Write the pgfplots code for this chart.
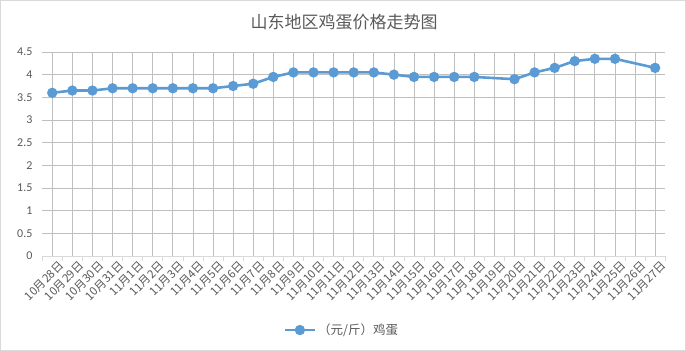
\documentclass[border=0pt]{standalone}
\usepackage{pgfplots}
\pgfplotsset{compat=1.18}
\usepackage{fontspec}
\setmainfont{Carlito}
\newfontfamily\cjk{Noto Sans CJK SC}
\definecolor{txt}{HTML}{595959}
\definecolor{grid}{HTML}{D9D9D9}
\definecolor{ser}{HTML}{5B9BD5}
\begin{document}
\begin{tikzpicture}[x=1pt,y=1pt]
\useasboundingbox (0,0) rectangle (686,351);
\draw[grid] (0.5,0.5) rectangle (685.5,350.5);
\node[text=txt, font=\cjk\fontsize{17}{17}\selectfont] at (344,329) {山东地区鸡蛋价格走势图};
\begin{axis}[
  at={(42.2pt,95pt)}, anchor=south west,
  scale only axis, width=623pt, height=204pt,
  xmin=-0.5, xmax=30.5, ymin=0, ymax=4.5,
  axis lines=left,
  x axis line style={-, draw=grid},
  y axis line style={draw=none},
  ytick={0,0.5,...,4.5},
  yticklabels={0,0.5,1,1.5,2,2.5,3,3.5,4,4.5},
  ymajorgrids, grid style={grid, line width=0.75pt},
  major y tick style={draw=none},
  xtick={0,...,30},
  major x tick style={draw=none},
  minor xtick={-0.5,0.5,...,30.5},
  minor x tick style={draw=grid, line width=0.75pt},
  minor tick length=5pt,
  tick align=outside,
  yticklabel style={text=txt, font=\fontsize{12}{12}\selectfont, xshift=-2pt},
  xticklabel style={text=txt, font=\cjk\fontsize{11.5}{11.5}\selectfont, rotate=45, anchor=east, xshift=4pt, yshift=-9pt, inner sep=0pt},
  xticklabels={10月28日,10月29日,10月30日,10月31日,11月1日,11月2日,11月3日,11月4日,11月5日,11月6日,11月7日,11月8日,11月9日,11月10日,11月11日,11月12日,11月13日,11月14日,11月15日,11月16日,11月17日,11月18日,11月19日,11月20日,11月21日,11月22日,11月23日,11月24日,11月25日,11月26日,11月27日},
  legend style={at={(0.481,-0.363)}, anchor=center, draw=none, fill=none, text=txt, font=\cjk\fontsize{12.5}{12.5}\selectfont},
  legend image code/.code={\draw[mark repeat=2,mark phase=2,#1] plot coordinates {(0pt,0pt) (15pt,0pt) (30pt,0pt)};},
  clip=false,
]
\addplot[ser, line width=2.6pt, mark=*, mark size=3.8pt, mark options={solid, fill=ser, draw=none}] coordinates {
(0,3.6) (1,3.65) (2,3.65) (3,3.7) (4,3.7) (5,3.7) (6,3.7) (7,3.7) (8,3.7) (9,3.75) (10,3.8)
(11,3.95) (12,4.05) (13,4.05) (14,4.05) (15,4.05) (16,4.05) (17,4.0) (18,3.95) (19,3.95)
(20,3.95) (21,3.95) (23,3.9) (24,4.05) (25,4.15) (26,4.3) (27,4.35) (28,4.35) (30,4.15)
};
\addlegendentry{（元/斤）鸡蛋}
\end{axis}
\end{tikzpicture}
\end{document}
